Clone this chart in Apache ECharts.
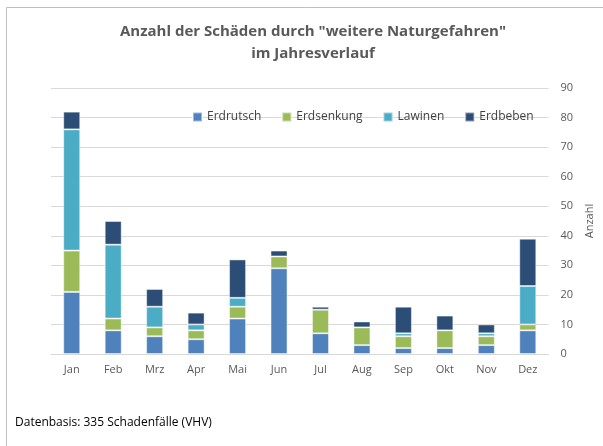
<!DOCTYPE html>
<html>
<head>
<meta charset="utf-8">
<script src="https://cdn.jsdelivr.net/npm/echarts@6/dist/echarts.min.js"></script>
<style>
  html, body { margin: 0; padding: 0; background: #fff; }
  #chart { width: 603px; height: 446px; }
</style>
</head>
<body>
<div id="chart"></div>
<script>
// Monthly claim counts per natural hazard (stacked)
const months = ['Jan', 'Feb', 'Mrz', 'Apr', 'Mai', 'Jun', 'Jul', 'Aug', 'Sep', 'Okt', 'Nov', 'Dez'];
const erdrutsch  = [21, 8, 6, 5, 12, 29, 7, 3, 2, 2, 3, 8];
const erdsenkung = [14, 4, 3, 3, 4, 4, 8, 6, 4, 6, 3, 2];
const lawinen    = [41, 25, 7, 2, 3, 0, 0, 0, 1, 0, 1, 13];
const erdbeben   = [6, 8, 6, 4, 13, 2, 1, 2, 9, 5, 3, 16];
const yTicks = [0, 10, 20, 30, 40, 50, 60, 70, 80, 90];

const font = 'Open Sans, Liberation Sans, sans-serif';

const seriesDefs = [
  { name: 'Erdrutsch', data: erdrutsch, color: '#4F81BD' },
  { name: 'Erdsenkung', data: erdsenkung, color: '#9BBB59' },
  { name: 'Lawinen', data: lawinen, color: '#4BACC6' },
  { name: 'Erdbeben', data: erdbeben, color: '#2C4D75' }
];

const chart = echarts.init(document.getElementById('chart'));
chart.setOption({
  animation: false,
  backgroundColor: '#fff',
  textStyle: { fontFamily: font },
  title: {
    text: 'Anzahl der Schäden durch "weitere Naturgefahren"\nim Jahresverlauf',
    left: 308,
    top: 16,
    textAlign: 'center',
    textStyle: { fontFamily: font, fontSize: 15, fontWeight: 'bold', color: '#595959', lineHeight: 22 }
  },
  legend: {
    top: 106,
    left: 187,
    itemWidth: 9,
    itemHeight: 9,
    itemGap: 20,
    icon: 'rect',
    textStyle: { fontFamily: font, fontSize: 12, color: '#404040' },
    data: seriesDefs.map(s => s.name)
  },
  grid: { left: 51, right: 50, top: 88, bottom: 92 },
  xAxis: {
    type: 'category',
    data: months,
    axisLine: { lineStyle: { color: '#d9d9d9', width: 1 } },
    axisTick: { show: false },
    axisLabel: { color: '#595959', fontSize: 11, margin: 10, fontFamily: font }
  },
  yAxis: {
    type: 'value',
    position: 'right',
    min: yTicks[0],
    max: yTicks[yTicks.length - 1],
    interval: 10,
    name: 'Anzahl',
    nameLocation: 'middle',
    nameRotate: 90,
    nameGap: 31,
    nameTextStyle: { color: '#595959', fontSize: 11, fontFamily: font },
    axisLine: { show: false },
    axisTick: { show: false },
    axisLabel: { color: '#595959', fontSize: 11, margin: 12, fontFamily: font },
    splitLine: { lineStyle: { color: '#d9d9d9', width: 1 } }
  },
  series: seriesDefs.map(s => ({
    name: s.name,
    type: 'bar',
    stack: 'total',
    data: s.data,
    barWidth: '41%',
    itemStyle: { color: s.color, borderColor: 'rgba(255,255,255,0.45)', borderWidth: 1 }
  })),
  graphic: [
    {
      type: 'rect',
      shape: { x: 6.5, y: 7.5, width: 620, height: 460 },
      style: { fill: 'none', stroke: '#bfbfbf', lineWidth: 1 },
      silent: true
    },
    {
      type: 'text',
      left: 15,
      top: 417,
      style: { text: 'Datenbasis: 335 Schadenfälle (VHV)', fill: '#000', font: '12px ' + font }
    }
  ]
});
</script>
</body>
</html>
